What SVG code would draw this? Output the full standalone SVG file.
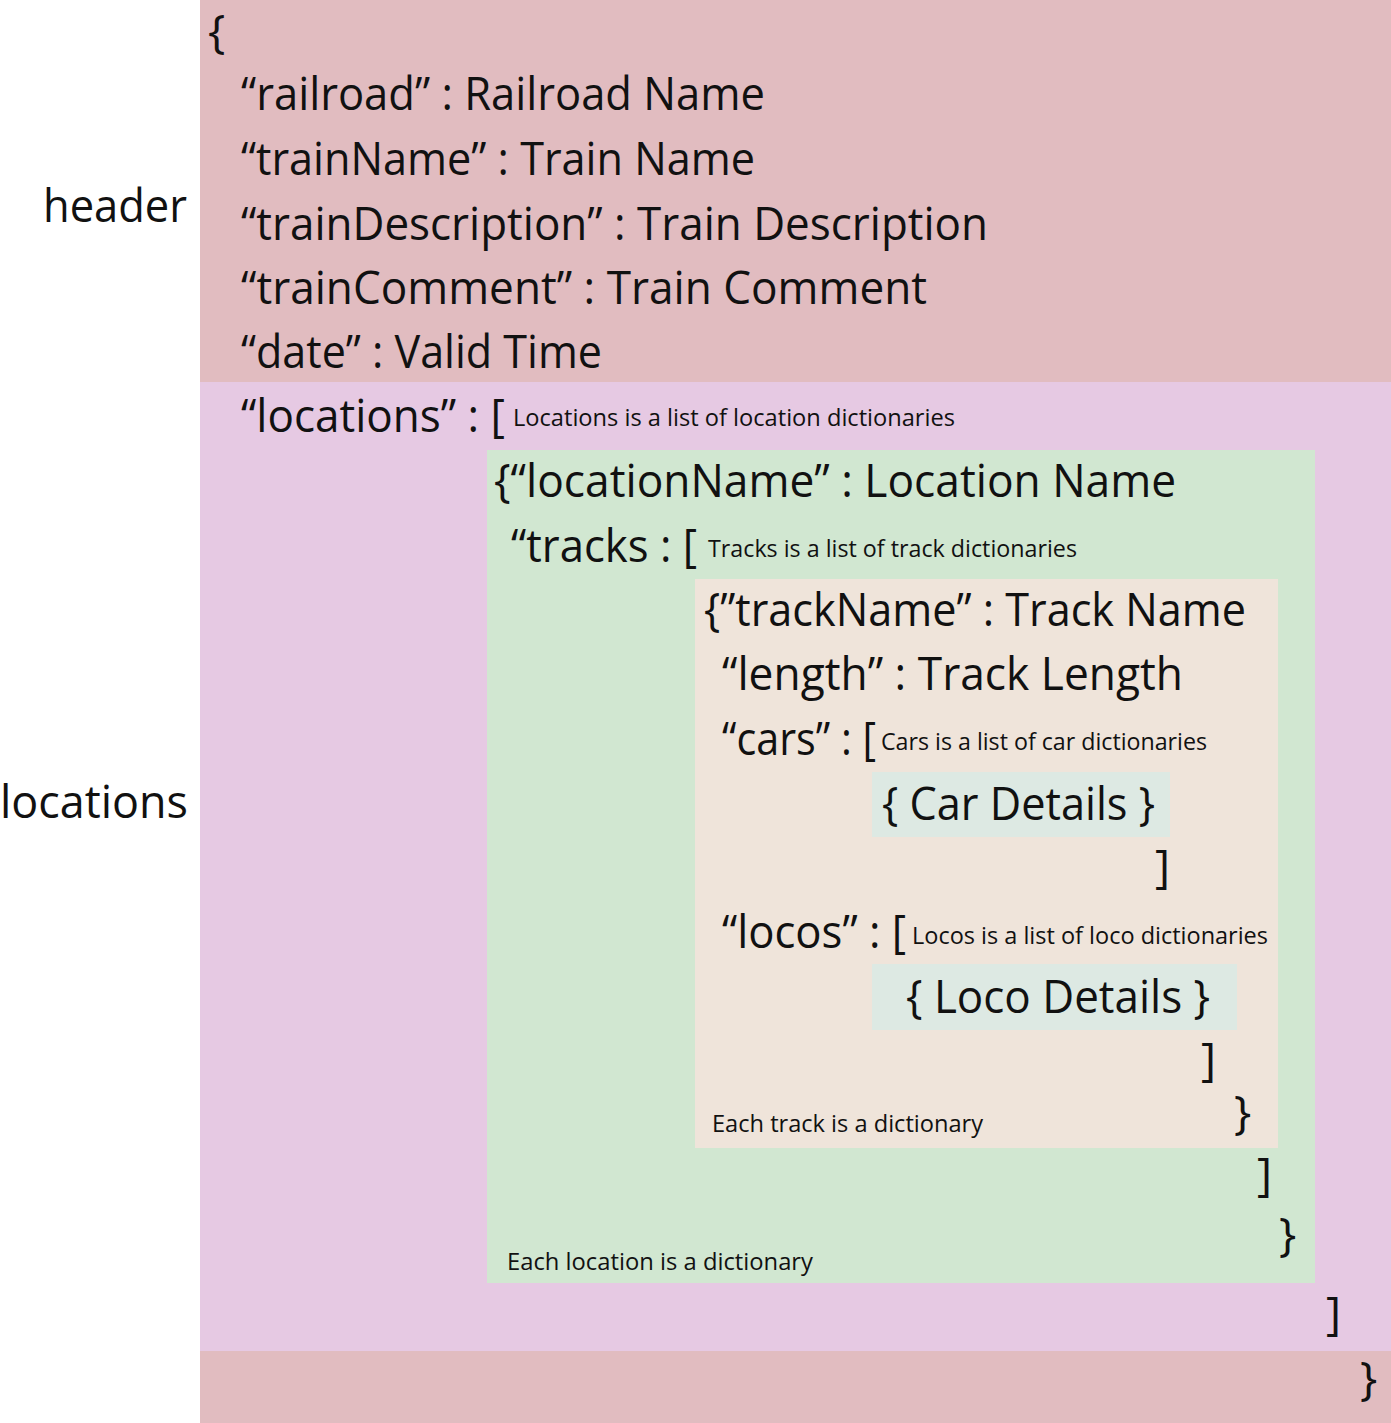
<svg xmlns="http://www.w3.org/2000/svg" width="1391" height="1423" viewBox="0 0 1391 1423">
<style>
text{font-family:"Open Sans","Liberation Sans",sans-serif;fill:#111}
.b{font-size:46px}
.s{font-size:23px}
</style>
<rect width="1391" height="1423" fill="#ffffff"/>
<g id="header-block">
<rect x="200" y="0" width="1191" height="382" fill="#e1bcc0"/>
<text class="b" x="43" y="222" textLength="144" lengthAdjust="spacingAndGlyphs">header</text>
<text class="b" x="208" y="48">{</text>
<text class="b" x="241" y="110" textLength="524" lengthAdjust="spacingAndGlyphs">“railroad” : Railroad Name</text>
<text class="b" x="241" y="175" textLength="514" lengthAdjust="spacingAndGlyphs">“trainName” : Train Name</text>
<text class="b" x="241" y="240" textLength="747" lengthAdjust="spacingAndGlyphs">“trainDescription” : Train Description</text>
<text class="b" x="241" y="304" textLength="686" lengthAdjust="spacingAndGlyphs">“trainComment” : Train Comment</text>
<text class="b" x="241" y="368" textLength="361" lengthAdjust="spacingAndGlyphs">“date” : Valid Time</text>
</g>
<g id="locations-block">
<rect x="200" y="382" width="1191" height="969" fill="#e6c9e3"/>
<text class="b" x="0" y="818" textLength="188" lengthAdjust="spacingAndGlyphs">locations</text>
<text class="b" x="241" y="432" textLength="264" lengthAdjust="spacingAndGlyphs">“locations” : [</text>
<text class="s" x="513" y="426" textLength="442" lengthAdjust="spacingAndGlyphs">Locations is a list of location dictionaries</text>
<text class="b" x="1326" y="1330">]</text>
</g>
<g id="footer-block">
<rect x="200" y="1351" width="1191" height="72" fill="#e1bcc0"/>
<text class="b" x="1360" y="1395">}</text>
</g>
<g id="location-dict">
<rect x="487" y="450" width="828" height="833" fill="#d1e7d1"/>
<text class="b" x="494" y="497" textLength="682" lengthAdjust="spacingAndGlyphs">{“locationName” : Location Name</text>
<text class="b" x="511" y="562" textLength="186" lengthAdjust="spacingAndGlyphs">“tracks : [</text>
<text class="s" x="708" y="557" textLength="369" lengthAdjust="spacingAndGlyphs">Tracks is a list of track dictionaries</text>
<text class="b" x="1257" y="1191">]</text>
<text class="b" x="1279" y="1251">}</text>
<text class="s" x="507" y="1270" textLength="306" lengthAdjust="spacingAndGlyphs">Each location is a dictionary</text>
</g>
<g id="track-dict">
<rect x="695" y="579" width="583" height="569" fill="#efe4da"/>
<text class="b" x="704" y="626" textLength="542" lengthAdjust="spacingAndGlyphs">{”trackName” : Track Name</text>
<text class="b" x="722" y="690" textLength="461" lengthAdjust="spacingAndGlyphs">“length” : Track Length</text>
<text class="b" x="722" y="755" textLength="154" lengthAdjust="spacingAndGlyphs">“cars” : [</text>
<text class="s" x="881" y="750" textLength="326" lengthAdjust="spacingAndGlyphs">Cars is a list of car dictionaries</text>
<text class="b" x="1155" y="883">]</text>
<text class="b" x="722" y="948" textLength="184" lengthAdjust="spacingAndGlyphs">“locos” : [</text>
<text class="s" x="912" y="944" textLength="356" lengthAdjust="spacingAndGlyphs">Locos is a list of loco dictionaries</text>
<text class="b" x="1201" y="1076">]</text>
<text class="b" x="1234" y="1129">}</text>
<text class="s" x="712" y="1132" textLength="271" lengthAdjust="spacingAndGlyphs">Each track is a dictionary</text>
</g>
<g id="car-details">
<rect x="872" y="772" width="298" height="65" fill="#dde9e3"/>
<text class="b" x="882" y="820" textLength="273" lengthAdjust="spacingAndGlyphs">{ Car Details }</text>
</g>
<g id="loco-details">
<rect x="872" y="964" width="365" height="66" fill="#dde9e3"/>
<text class="b" x="906" y="1013" textLength="304" lengthAdjust="spacingAndGlyphs">{ Loco Details }</text>
</g>
<g id="connectors"></g>
</svg>
